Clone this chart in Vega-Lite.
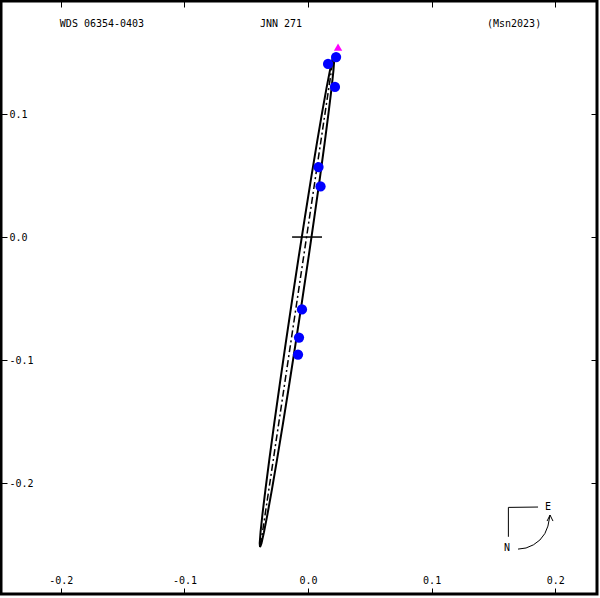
{
  "$schema": "https://vega.github.io/schema/vega-lite/v6.json",
  "width": 596,
  "height": 593,
  "padding": {"left": 1, "top": 1, "right": 3, "bottom": 4},
  "autosize": {"type": "none"},
  "background": "white",
  "config": {
    "view": {"stroke": "black", "strokeWidth": 3},
    "axis": {"domain": false, "grid": false, "tickColor": "black", "tickSize": -6, "tickWidth": 1, "labelFont": "DejaVu Sans Mono", "labelFontSize": 10, "labelColor": "black", "title": null}
  },
  "datasets": {
    "ellipse": [
      {"t": 0, "x": 0.02104, "y": 0.148},
      {"t": 10, "x": 0.02128, "y": 0.14487},
      {"t": 20, "x": 0.0206, "y": 0.13577},
      {"t": 30, "x": 0.01903, "y": 0.12095},
      {"t": 40, "x": 0.0166, "y": 0.10087},
      {"t": 50, "x": 0.01341, "y": 0.07617},
      {"t": 60, "x": 0.00953, "y": 0.04756},
      {"t": 70, "x": 0.0051, "y": 0.01592},
      {"t": 80, "x": 0.00024, "y": -0.01778},
      {"t": 90, "x": -0.0049, "y": -0.05251},
      {"t": 100, "x": -0.01016, "y": -0.08722},
      {"t": 110, "x": -0.01538, "y": -0.12088},
      {"t": 120, "x": -0.02041, "y": -0.15244},
      {"t": 130, "x": -0.02508, "y": -0.18095},
      {"t": 140, "x": -0.02926, "y": -0.20553},
      {"t": 150, "x": -0.03283, "y": -0.22545},
      {"t": 160, "x": -0.03567, "y": -0.24011},
      {"t": 170, "x": -0.03769, "y": -0.24905},
      {"t": 180, "x": -0.03884, "y": -0.252},
      {"t": 190, "x": -0.03908, "y": -0.24887},
      {"t": 200, "x": -0.0384, "y": -0.23977},
      {"t": 210, "x": -0.03683, "y": -0.22495},
      {"t": 220, "x": -0.0344, "y": -0.20487},
      {"t": 230, "x": -0.03121, "y": -0.18017},
      {"t": 240, "x": -0.02733, "y": -0.15156},
      {"t": 250, "x": -0.0229, "y": -0.11992},
      {"t": 260, "x": -0.01804, "y": -0.08622},
      {"t": 270, "x": -0.0129, "y": -0.05149},
      {"t": 280, "x": -0.00764, "y": -0.01678},
      {"t": 290, "x": -0.00242, "y": 0.01688},
      {"t": 300, "x": 0.00261, "y": 0.04844},
      {"t": 310, "x": 0.00728, "y": 0.07695},
      {"t": 320, "x": 0.01146, "y": 0.10153},
      {"t": 330, "x": 0.01503, "y": 0.12145},
      {"t": 340, "x": 0.01787, "y": 0.13611},
      {"t": 350, "x": 0.01989, "y": 0.14505},
      {"t": 360, "x": 0.02104, "y": 0.148}
    ],
    "nodes": [
      {"o": 1, "x": -0.0384, "y": -0.2504},
      {"o": 2, "x": 0.0202, "y": 0.1439}
    ],
    "origin": [{"x": -0.0129, "x2": 0.0113, "y": 0}],
    "obs": [
      {"x": 0.0227, "y": 0.1463},
      {"x": 0.0162, "y": 0.1407},
      {"x": 0.0218, "y": 0.122},
      {"x": 0.0085, "y": 0.0569},
      {"x": 0.0101, "y": 0.0411},
      {"x": -0.0049, "y": -0.0589},
      {"x": -0.0073, "y": -0.0817},
      {"x": -0.0081, "y": -0.0955}
    ],
    "latest": [{"x": 0.0243, "y": 0.1545}],
    "compass": [
      {"g": "corner", "o": 1, "x": 0.1861, "y": -0.2195},
      {"g": "corner", "o": 2, "x": 0.1621, "y": -0.2198},
      {"g": "corner", "o": 3, "x": 0.1621, "y": -0.2437},
      {"g": "arc", "o": 1, "x": 0.1699, "y": -0.2537},
      {"g": "arc", "o": 2, "x": 0.1764, "y": -0.2528},
      {"g": "arc", "o": 3, "x": 0.1824, "y": -0.2502},
      {"g": "arc", "o": 4, "x": 0.1876, "y": -0.2463},
      {"g": "arc", "o": 5, "x": 0.1916, "y": -0.2411},
      {"g": "arc", "o": 6, "x": 0.1941, "y": -0.235},
      {"g": "arc", "o": 7, "x": 0.1958, "y": -0.226},
      {"g": "head", "o": 1, "x": 0.1934, "y": -0.2309},
      {"g": "head", "o": 2, "x": 0.1958, "y": -0.226},
      {"g": "head", "o": 3, "x": 0.1982, "y": -0.2309}
    ],
    "labels": [
      {"text": "WDS 06354-0403", "x": -0.1667, "y": 0.1732},
      {"text": "JNN 271", "x": -0.0218, "y": 0.1732},
      {"text": "(Msn2023)", "x": 0.1667, "y": 0.1732},
      {"text": "E", "x": 0.1942, "y": -0.2195},
      {"text": "N", "x": 0.161, "y": -0.2528}
    ]
  },
  "resolve": {"axis": {"x": "independent", "y": "independent"}},
  "layer": [
    {
      "data": {"name": "ellipse"},
      "mark": {"type": "line", "color": "black", "strokeWidth": 2},
      "encoding": {
        "x": {"field": "x", "type": "quantitative", "scale": {"domain": [-0.2484, 0.2338], "nice": false, "zero": false},
          "axis": {"orient": "bottom", "values": [-0.2, -0.1, 0, 0.1, 0.2], "labelBaseline": "middle", "labelAlign": "center", "labelPadding": -8,
            "labelExpr": "datum.value < 0 ? '-' + format(-datum.value, '.1f') : format(datum.value, '.1f')"}},
        "y": {"field": "y", "type": "quantitative", "scale": {"domain": [-0.2902, 0.1919], "nice": false, "zero": false},
          "axis": {"orient": "left", "values": [-0.2, -0.1, 0, 0.1], "labelBaseline": "middle", "labelAlign": "left", "labelPadding": -2,
            "labelExpr": "datum.value < 0 ? '-' + format(-datum.value, '.1f') : format(datum.value, '.1f')"}},
        "order": {"field": "t", "type": "quantitative"}
      }
    },
    {
      "data": {"name": "nodes"},
      "mark": {"type": "line", "color": "black", "strokeWidth": 1.5, "strokeDash": [7, 3, 2, 3]},
      "encoding": {
        "x": {"field": "x", "type": "quantitative", "axis": {"orient": "top", "values": [-0.2, -0.1, 0, 0.1, 0.2], "labels": false}},
        "y": {"field": "y", "type": "quantitative", "axis": {"orient": "right", "values": [-0.2, -0.1, 0, 0.1], "labels": false}},
        "order": {"field": "o", "type": "quantitative"}
      }
    },
    {
      "data": {"name": "origin"},
      "mark": {"type": "rule", "color": "black", "strokeWidth": 1.5},
      "encoding": {
        "x": {"field": "x", "type": "quantitative", "axis": null},
        "x2": {"field": "x2"},
        "y": {"field": "y", "type": "quantitative", "axis": null}
      }
    },
    {
      "data": {"name": "obs"},
      "mark": {"type": "point", "shape": "circle", "filled": true, "color": "#0000ff", "opacity": 1, "size": 105},
      "encoding": {
        "x": {"field": "x", "type": "quantitative", "axis": null},
        "y": {"field": "y", "type": "quantitative", "axis": null}
      }
    },
    {
      "data": {"name": "latest"},
      "mark": {"type": "point", "shape": "triangle-up", "filled": true, "color": "#ff00ff", "opacity": 1, "size": 70},
      "encoding": {
        "x": {"field": "x", "type": "quantitative", "axis": null},
        "y": {"field": "y", "type": "quantitative", "axis": null}
      }
    },
    {
      "data": {"name": "compass"},
      "mark": {"type": "line", "color": "black", "strokeWidth": 1},
      "encoding": {
        "x": {"field": "x", "type": "quantitative", "axis": null},
        "y": {"field": "y", "type": "quantitative", "axis": null},
        "detail": {"field": "g"},
        "order": {"field": "o", "type": "quantitative"}
      }
    },
    {
      "data": {"name": "labels"},
      "mark": {"type": "text", "font": "DejaVu Sans Mono", "fontSize": 10, "color": "black", "baseline": "middle", "align": "center"},
      "encoding": {
        "x": {"field": "x", "type": "quantitative", "axis": null},
        "y": {"field": "y", "type": "quantitative", "axis": null},
        "text": {"field": "text"}
      }
    }
  ]
}
